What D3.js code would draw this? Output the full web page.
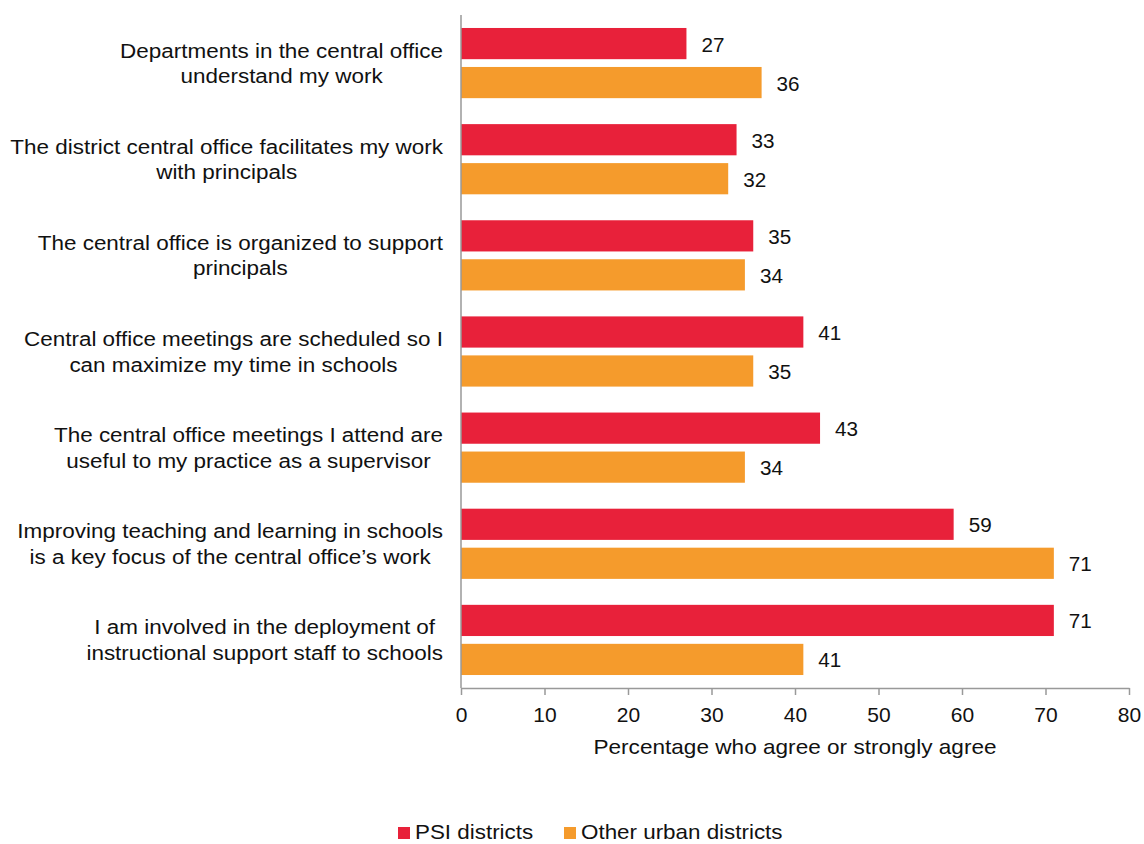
<!DOCTYPE html>
<html>
<head>
<meta charset="utf-8">
<script src="https://cdn.jsdelivr.net/npm/d3@7"></script>
<style>
  body { margin: 0; background: #fff; }
  text { font-family: "Liberation Sans", Arial, sans-serif; fill: #111; }
</style>
</head>
<body>
<div id="chart"></div>
<script>
// chart data
var categories = [
  ["Departments in the central office", "understand my work"],
  ["The district central office facilitates my work", "with principals"],
  ["The central office is organized to support", "principals"],
  ["Central office meetings are scheduled so I", "can maximize my time in schools"],
  ["The central office meetings I attend are", "useful to my practice as a supervisor"],
  ["Improving teaching and learning in schools", "is a key focus of the central office\u2019s work"],
  ["I am involved in the deployment of", "instructional support staff to schools"]
];
var psiValues = [27, 33, 35, 41, 43, 59, 71];
var otherValues = [36, 32, 34, 35, 34, 71, 41];
var seriesNames = ["PSI districts", "Other urban districts"];
var seriesColors = ["#e8213a", "#f59b2c"];
var xTicks = [0, 10, 20, 30, 40, 50, 60, 70, 80];

var svgWidth = 1144;
var svgHeight = 844;
var margin = { top: 15, right: 15, bottom: 156, left: 461 };
var width = svgWidth - margin.left - margin.right;
var height = svgHeight - margin.top - margin.bottom;

var svg = d3.select("#chart")
  .append("svg")
  .attr("width", svgWidth)
  .attr("height", svgHeight);

var chartGroup = svg.append("g")
  .attr("transform", `translate(${margin.left}, ${margin.top})`);

// text that is a little wider than the font gives
function wideText(parent, x, y, size, sx, anchor, str) {
  return parent.append("g")
    .attr("transform", `translate(${x}, ${y}) scale(${sx}, 1)`)
    .append("text")
    .attr("text-anchor", anchor)
    .style("font-size", size + "px")
    .text(str);
}

var xScale = d3.scaleLinear()
  .domain([0, 80])
  .range([0, 668]);

var yScale = d3.scaleBand()
  .domain(d3.range(categories.length))
  .range([0, height]);

var seriesScale = d3.scaleBand()
  .domain([0, 1])
  .range([yScale.bandwidth() * 0.135, yScale.bandwidth() * 0.865])
  .paddingInner(0.2);

var rows = categories.map((c, i) => ({ idx: i, lines: c, vals: [psiValues[i], otherValues[i]] }));

// bars and value labels
rows.forEach(function(d) {
  var g = chartGroup.append("g")
    .attr("transform", `translate(0, ${yScale(d.idx)})`);
  d.vals.forEach(function(v, s) {
    g.append("rect")
      .attr("x", 0)
      .attr("y", seriesScale(s))
      .attr("width", xScale(v))
      .attr("height", seriesScale.bandwidth())
      .attr("fill", seriesColors[s]);
    wideText(g, xScale(v) + 15, seriesScale(s) + seriesScale.bandwidth() / 2 + 8, 19.5, 1.06, "start", v);
  });
});

// category labels, each block centred and right-aligned to the axis
var labelSx = 1.07;
rows.forEach(function(d) {
  var yc = yScale(d.idx) + yScale.bandwidth() / 2;
  var ys = d.lines.map((line, j) => yc - 5.5 + j * 25.5);
  var texts = d.lines.map((line, j) => wideText(chartGroup, 0, ys[j], 21, labelSx, "middle", line));
  var maxW = d3.max(texts, t => t.node().getComputedTextLength()) * labelSx;
  texts.forEach((t, j) => d3.select(t.node().parentNode)
    .attr("transform", `translate(${-18 - maxW / 2}, ${ys[j]}) scale(${labelSx}, 1)`));
});

// axes
var xAxis = chartGroup.append("g")
  .attr("transform", `translate(0, ${height})`)
  .call(d3.axisBottom(xScale).tickValues(xTicks).tickSize(7).tickSizeOuter(0));
xAxis.select(".domain").attr("stroke", "#999").attr("stroke-width", 1.5);
xAxis.selectAll(".tick line").attr("stroke", "#999").attr("stroke-width", 1.5);
xAxis.selectAll(".tick text")
  .attr("y", 34)
  .attr("dy", 0)
  .style("font-size", "21px")
  .style("font-family", "'Liberation Sans', Arial, sans-serif")
  .attr("fill", "#111");

chartGroup.append("line")
  .attr("x1", 0).attr("x2", 0)
  .attr("y1", 0).attr("y2", height)
  .attr("stroke", "#999")
  .attr("stroke-width", 1.5);

wideText(chartGroup, xScale(40), height + 66, 20, 1.13, "middle", "Percentage who agree or strongly agree");

// legend
var legendX = [398, 564];
seriesNames.forEach(function(name, i) {
  svg.append("rect")
    .attr("x", legendX[i])
    .attr("y", 827)
    .attr("width", 12)
    .attr("height", 12)
    .attr("fill", seriesColors[i]);
  wideText(svg, legendX[i] + 17, 839, 20, 1.12, "start", name);
});
</script>
</body>
</html>
